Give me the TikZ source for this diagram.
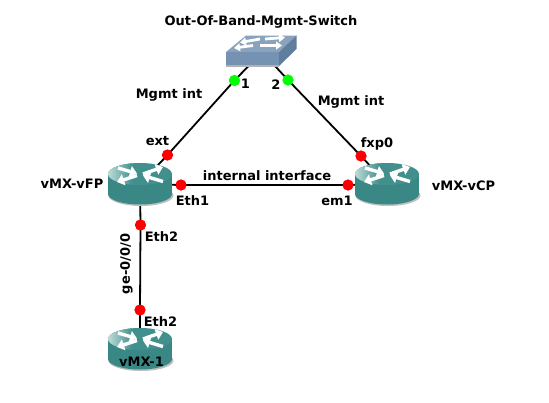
\documentclass[tikz,border=0pt]{standalone}
\usepackage{fontspec}
\setmainfont{DejaVu Sans}
\usetikzlibrary{arrows.meta}
\definecolor{rtop}{HTML}{41908E}
\definecolor{rside}{HTML}{3A8886}
\definecolor{rlight}{HTML}{C4DEDC}
\definecolor{swtop}{HTML}{8AA3BD}
\definecolor{swfront}{HTML}{7592B2}
\definecolor{swside}{HTML}{5F7D9C}
\tikzset{
  lbl/.style={font=\bfseries\fontsize{13}{15}\selectfont,inner sep=0pt,text=black},
  link/.style={line width=1.8pt,black},
  reddot/.style={circle,fill=red,inner sep=0pt,minimum size=11pt},
  greendot/.style={circle,fill=green,inner sep=0pt,minimum size=11pt},
  anchorpt/.style={inner sep=0pt,minimum size=0pt},
  rarrow/.style={white,line width=3.4pt,-{Triangle[length=7pt,width=11pt]}},
  sarrow/.style={white,line width=2.8pt,-{Triangle[length=6pt,width=8pt]}},
  pics/router/.style={code={
    \fill[black!25] (1,11.5) ellipse [x radius=32.5,y radius=10.5];
    \fill[rside] (0,10) ellipse [x radius=32,y radius=10.5];
    \fill[rside] (-32,-10) rectangle (32,10);
    \begin{scope}
      \clip (0,-10) ellipse [x radius=32,y radius=11];
      \fill[rtop] (-33,-22) rectangle (33,2);
      \shade[left color=rlight,right color=rtop] (-33,-22) rectangle (-8,2);
    \end{scope}
    \draw[rarrow] (-22,-16) -- (-3,-10.5);
    \draw[rarrow] (3,-10) -- (23,-17);
    \draw[rarrow] (-3,-8.5) -- (-23,-2);
    \draw[rarrow] (23,-2.5) -- (3,-8.5);
  }},
}
\begin{document}
\begin{tikzpicture}[x=1pt,y=-1pt]
\useasboundingbox (0,0) rectangle (549,402);
\fill[white] (0,0) rectangle (549,402);
\node[anchorpt] (sw) at (262,52) {};
\node[anchorpt] (fp) at (140,184) {};
\node[anchorpt] (cp) at (387,184) {};
\node[anchorpt] (mx) at (140,349) {};
\node[greendot] (g1) at (234.5,80.5) {};
\node[greendot] (g2) at (288,80) {};
\node[reddot] (ext) at (167.5,155) {};
\node[reddot] (fxp) at (361,156) {};
\node[reddot] (eth1) at (181,185) {};
\node[reddot] (em1) at (348,185) {};
\node[reddot] (e2a) at (140.5,225) {};
\node[reddot] (e2b) at (140,310) {};
\draw[link] (sw.center) -- (g1.center) -- (ext.center) -- (fp.center);
\draw[link] (sw.center) -- (g2.center) -- (fxp.center) -- (cp.center);
\draw[link] (fp.center) -- (eth1.center) -- (em1.center) -- (cp.center);
\draw[link] (fp.center) -- (e2a.center) -- (e2b.center) -- (mx.center);
\fill[swtop] (226,52) -- (246,35.5) -- (296.5,35.5) -- (279,52) -- cycle;
\fill[swside] (279,52) -- (296.5,35.5) -- (296.5,49) -- (279,66) -- cycle;
\fill[swfront] (226,52) rectangle (279,65);
\fill[black!30] (226,65) rectangle (279,66.5);
\draw[sarrow] (260,39) -- (240,42.5);
\draw[sarrow] (265,39) -- (285,37.5);
\draw[sarrow] (253,45.5) -- (234,48);
\draw[sarrow] (260,45.5) -- (282,45.5);
\pic at (fp) {router};
\pic at (cp) {router};
\pic at (mx) {router};
\node[greendot] at (g1) {};
\node[greendot] at (g2) {};
\foreach \d in {ext,fxp,eth1,em1,e2a,e2b}{\node[reddot] at (\d) {};}
\node[lbl] (t0) at (261,21.5) {Out-Of-Band-Mgmt-Switch};
\node[lbl] (t1) at (169,94.5) {Mgmt int};
\node[lbl] (t2) at (351,102) {Mgmt int};
\node[lbl] (t3) at (245.5,84) {1};
\node[lbl] (t4) at (276,85) {2};
\node[lbl] (t5) at (157.5,141) {ext};
\node[lbl] (t6) at (377,143.5) {fxp0};
\node[lbl] (t7) at (72,184) {vMX-vFP};
\node[lbl] (t8) at (463.5,186) {vMX-vCP};
\node[lbl] (t9) at (267,175.5) {internal interface};
\node[lbl] (t10) at (192.5,200.5) {Eth1};
\node[lbl] (t11) at (337,200.5) {em1};
\node[lbl] (t12) at (161.5,237) {Eth2};
\node[lbl] (t13) at (160.5,321.5) {Eth2};
\node[lbl,rotate=90] (t14) at (126.5,264) {ge-0/0/0};
\node[lbl] (t15) at (141.5,362) {vMX-1};
\end{tikzpicture}
\end{document}
